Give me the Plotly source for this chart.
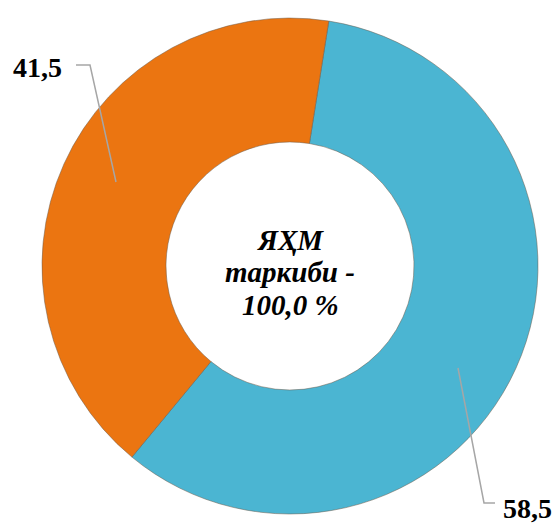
import plotly.graph_objects as go

categories = ["Сегмент A", "Сегмент B"]
values = [58.5, 41.5]
colors = ["#4BB5D2", "#EB7511"]
center_text = ["ЯҲМ", "таркиби -", "100,0 %"]

W, H = 557, 529

def px(x):
    return x / W

def py(y):
    return 1 - y / H

fig = go.Figure()
fig.add_trace(go.Pie(
    labels=categories,
    values=values,
    hole=0.5,
    sort=False,
    direction="clockwise",
    rotation=9,
    marker=dict(colors=colors, line=dict(color="#6b5a4a", width=0.5)),
    textinfo="none",
    hoverinfo="label+value",
    showlegend=False,
    domain=dict(x=[px(42), px(538)], y=[py(518), py(14)]),
))

fmt = lambda v: f"{v:.1f}".replace(".", ",")
label_font = dict(family="Liberation Serif", size=28, color="#000000")

# label for second value (orange), top-left
fig.add_annotation(x=px(37), y=py(67), xref="paper", yref="paper",
                   text=f"<b>{fmt(values[1])}</b>", showarrow=False,
                   font=label_font, xanchor="center", yanchor="middle")
# label for first value (blue), bottom-right
fig.add_annotation(x=px(527), y=py(508), xref="paper", yref="paper",
                   text=f"<b>{fmt(values[0])}</b>", showarrow=False,
                   font=label_font, xanchor="center", yanchor="middle")

line_style = dict(color="#A6A6A6", width=1.5)
fig.add_shape(type="path", xref="paper", yref="paper",
              path=f"M {px(76)},{py(65)} L {px(90)},{py(65)} L {px(116)},{py(182)}",
              line=line_style)
fig.add_shape(type="path", xref="paper", yref="paper",
              path=f"M {px(458)},{py(368)} L {px(484)},{py(503)} L {px(495)},{py(503)}",
              line=line_style)

center_y = [240, 272, 305]
for t, yy in zip(center_text, center_y):
    fig.add_annotation(x=px(290), y=py(yy), xref="paper", yref="paper",
                       text=f"<b><i>{t}</i></b>",
                       showarrow=False,
                       font=dict(family="Liberation Serif", size=29, color="#000000"),
                       align="center", xanchor="center", yanchor="middle")

fig.update_layout(width=W, height=H, margin=dict(l=0, r=0, t=0, b=0),
                  paper_bgcolor="white", plot_bgcolor="white")
fig.write_html("out.html",
               config={"displayModeBar": False},
               post_script="document.body.style.margin='0';document.body.style.overflow='hidden';")
